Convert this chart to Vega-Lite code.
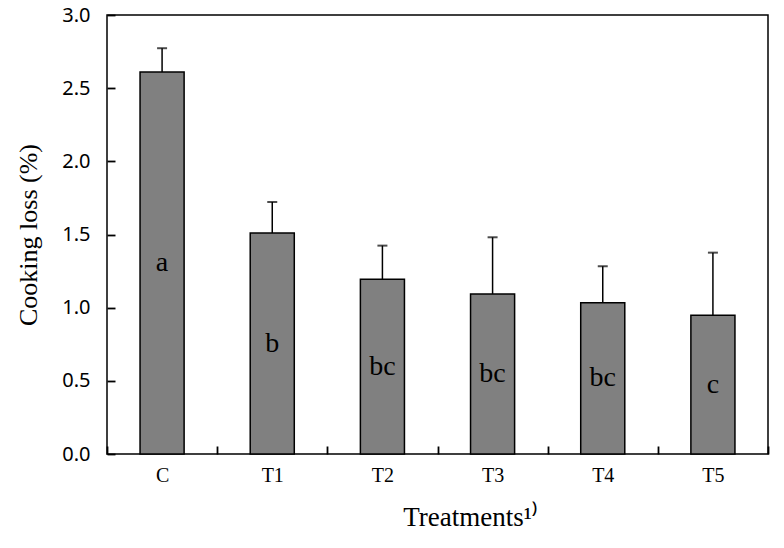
{
  "$schema": "https://vega.github.io/schema/vega-lite/v6.json",
  "width": 661,
  "height": 439,
  "autosize": {"type": "none"},
  "padding": {"left": 107, "top": 15, "right": 16, "bottom": 94},
  "background": "white",
  "config": {
    "view": {"stroke": "black", "strokeWidth": 1.5},
    "axis": {"domain": false, "ticks": true, "tickColor": "black", "tickWidth": 1.8, "grid": false, "labelColor": "black", "titleColor": "black", "titleFontWeight": "normal"}
  },
  "data": {
    "values": [
      {"treatment": "C", "mean": 2.61, "upper": 2.773, "letter": "a"},
      {"treatment": "T1", "mean": 1.51, "upper": 1.722, "letter": "b"},
      {"treatment": "T2", "mean": 1.195, "upper": 1.424, "letter": "bc"},
      {"treatment": "T3", "mean": 1.094, "upper": 1.481, "letter": "bc"},
      {"treatment": "T4", "mean": 1.034, "upper": 1.283, "letter": "bc"},
      {"treatment": "T5", "mean": 0.948, "upper": 1.376, "letter": "c"}
    ]
  },
  "encoding": {
    "x": {
      "field": "treatment",
      "type": "nominal",
      "sort": null,
      "scale": {"paddingInner": 0, "paddingOuter": 0},
      "axis": {
        "title": "Treatments¹⁾",
        "labelAngle": 0,
        "labelFont": "Liberation Serif",
        "labelFontSize": 20,
        "labelPadding": 11,
        "tickBand": "extent",
        "tickSize": 8,
        "offset": -8,
        "titleFont": "Liberation Serif",
        "titleFontSize": 27,
        "titleX": 363,
        "titleY": 79,
        "titleBaseline": "alphabetic",
        "titleAlign": "center"
      }
    }
  },
  "layer": [
    {
      "mark": {"type": "bar", "fill": "#808080", "stroke": "black", "strokeWidth": 1.5, "width": {"band": 0.4}},
      "encoding": {
        "y": {
          "field": "mean",
          "type": "quantitative",
          "scale": {"domain": [0, 3], "nice": false},
          "axis": {
            "title": "Cooking loss (%)",
            "titleFont": "Liberation Serif",
            "titleFontSize": 26,
            "titlePadding": 20,
            "labelFont": "Noto Sans",
            "labelFontSize": 20,
            "labelPadding": 17,
            "tickSize": 8,
            "offset": -8,
            "values": [0, 0.5, 1, 1.5, 2, 2.5, 3],
            "format": ".1f"
          }
        }
      }
    },
    {
      "mark": {"type": "rule", "color": "black", "strokeWidth": 1.5},
      "encoding": {
        "y": {"field": "mean", "type": "quantitative"},
        "y2": {"field": "upper"}
      }
    },
    {
      "mark": {"type": "tick", "color": "black", "size": 10, "thickness": 2, "orient": "horizontal"},
      "encoding": {
        "y": {"field": "upper", "type": "quantitative"}
      }
    },
    {
      "transform": [{"calculate": "datum.mean / 2", "as": "mid"}],
      "mark": {"type": "text", "font": "Liberation Serif", "fontSize": 28, "baseline": "middle", "color": "black"},
      "encoding": {
        "y": {"field": "mid", "type": "quantitative"},
        "text": {"field": "letter"}
      }
    }
  ]
}
